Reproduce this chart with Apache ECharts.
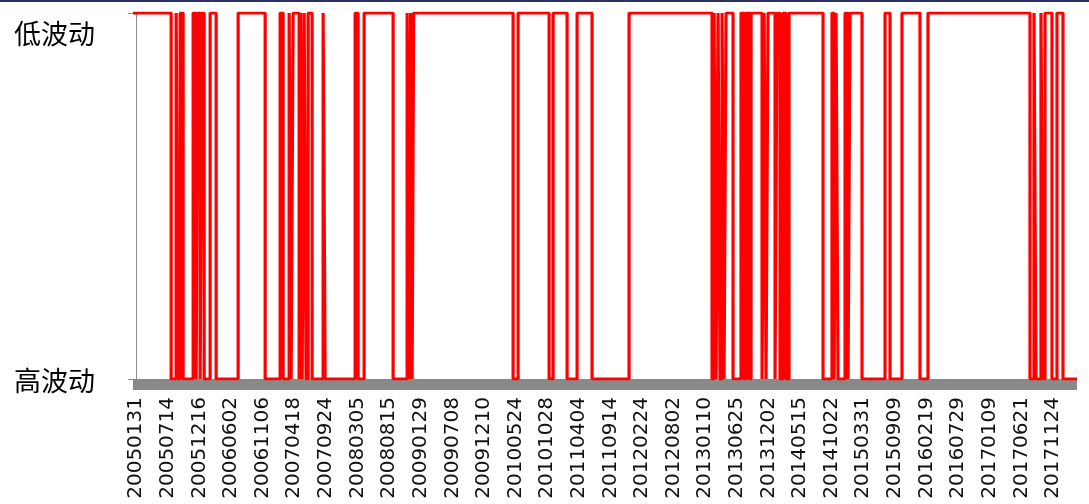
<!DOCTYPE html>
<html>
<head>
<meta charset="utf-8">
<script src="https://cdn.jsdelivr.net/npm/echarts@6/dist/echarts.min.js"></script>
<style>
  html, body { margin: 0; padding: 0; background: #fff; }
  #bar { position: absolute; left: 0; top: 0; width: 1089px; height: 2px; background: #2e3160; }
  #chart { position: absolute; left: 0; top: 2px; width: 1089px; height: 502px; }
</style>
</head>
<body>
<div id="bar"></div>
<div id="chart"></div>
<script>
// x-axis tick labels (one every label step)
const dateLabels = ['20050131','20050714','20051216','20060602','20061106','20070418','20070924','20080305','20080815','20090129','20090708','20091210','20100524','20101028','20110404','20110914','20120224','20120802','20130110','20130625','20131202','20140515','20141022','20150331','20150909','20160219','20160729','20170109','20170621','20171124'];
// y-axis state names: 0 = high volatility, 1 = low volatility
const stateLabels = ['高波动', '低波动'];
// series range (in label-step units) and initial state
const seriesStart = -0.1;
const seriesEnd = 29.76;
const startState = 1;
// positions (label-step units) where the state flips
const switchPoints = [
  1.107, 1.265, 1.328, 1.392, 1.486, 1.803, 1.898, 1.945, 2.024, 2.087,
  2.151, 2.340, 2.530, 3.226, 4.080, 4.554, 4.649, 4.839, 4.902, 4.965,
  5.155, 5.202, 5.250, 5.313, 5.376, 5.440, 5.566, 5.914, 5.977, 6.926,
  7.021, 7.211, 8.128, 8.571, 8.634, 8.681, 8.729, 8.776, 11.923, 12.081,
  13.062, 13.188, 13.631, 13.947, 14.421, 15.591, 18.216, 18.280, 18.343, 18.406,
  18.469, 18.533, 18.596, 18.659, 18.880, 19.133, 19.228, 19.292, 19.386, 19.450,
  19.798, 19.861, 19.924, 19.987, 20.209, 20.272, 20.367, 20.462, 20.556, 20.651,
  21.727, 22.011, 22.075, 22.138, 22.201, 22.423, 22.518, 22.581, 22.960, 23.688,
  23.846, 24.225, 24.794, 25.047, 28.273, 28.400, 28.463, 28.621, 28.684, 28.748,
  28.969, 29.127, 29.317
];

const pts = [[seriesStart, startState]];
let s = startState;
for (const t of switchPoints) { s = 1 - s; pts.push([t, s]); }
pts.push([seriesEnd, s]);

const tickIdx = dateLabels.map((_, i) => i);

const chart = echarts.init(document.getElementById('chart'), null, { renderer: 'canvas' });
chart.setOption({
  animation: false,
  backgroundColor: '#ffffff',
  grid: { left: 133, right: 12, top: 11, bottom: 125, containLabel: false },
  xAxis: [
    {
      type: 'value',
      min: seriesStart,
      max: seriesEnd,
      position: 'bottom',
      axisLine: { show: false },
      axisTick: { show: false },
      splitLine: { show: false },
      axisLabel: {
        customValues: tickIdx,
        rotate: 90,
        margin: 18,
        fontFamily: 'DejaVu Sans',
        fontSize: 20,
        color: '#111',
        formatter: v => dateLabels[Math.round(v)] || ''
      }
    },
    {
      type: 'value',
      min: seriesStart,
      max: seriesEnd,
      position: 'bottom',
      offset: 5,
      axisLine: { show: true, lineStyle: { color: '#898989', width: 11, cap: 'butt' } },
      axisTick: { show: false },
      axisLabel: { show: false },
      splitLine: { show: false }
    }
  ],
  yAxis: {
    type: 'value',
    min: 0,
    max: 1,
    interval: 1,
    axisLine: { show: true, lineStyle: { color: '#8c8c8c', width: 1 } },
    axisTick: { show: true, length: 8, lineStyle: { color: '#8c8c8c' } },
    splitLine: { show: false },
    axisLabel: {
      margin: 38,
      formatter: v => v === 1 ? '{top|' + stateLabels[1] + '}' : '{bot|' + stateLabels[0] + '}',
      rich: {
        top: { fontFamily: 'Noto Sans CJK SC', fontSize: 27, color: '#000', padding: [42, 0, 0, 0] },
        bot: { fontFamily: 'Noto Sans CJK SC', fontSize: 27, color: '#000', padding: [4, 0, 0, 0] }
      }
    }
  },
  series: [{
    type: 'line',
    xAxisIndex: 0,
    step: 'end',
    showSymbol: false,
    symbol: 'none',
    data: pts,
    lineStyle: { color: '#ff0000', width: 3.2, cap: 'butt' },
    z: 5
  }]
});
</script>
</body>
</html>
